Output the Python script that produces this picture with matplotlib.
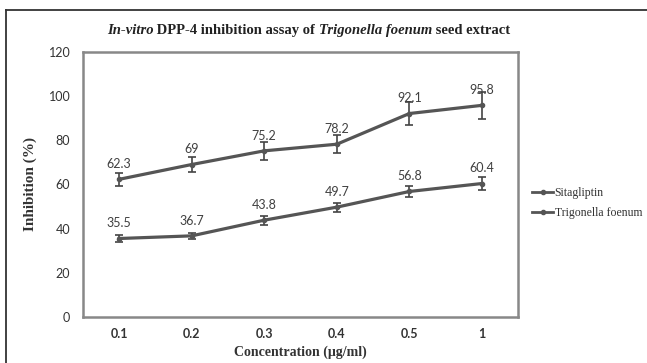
import matplotlib
matplotlib.use('Agg')
import matplotlib.pyplot as plt
from matplotlib.lines import Line2D

# データ
concentrations = ['0.1', '0.2', '0.3', '0.4', '0.5', '1']
sitagliptin = [62.3, 69, 75.2, 78.2, 92.1, 95.8]
sitagliptin_err = [3, 3.5, 4, 4, 5, 6]
trigonella = [35.5, 36.7, 43.8, 49.7, 56.8, 60.4]
trigonella_err = [1.5, 1.5, 2, 2, 2.5, 3]
y_ticks = [0, 20, 40, 60, 80, 100, 120]

line_color = '#555555'
serif = 'Liberation Serif'
sans = 'Lato'

fig = plt.figure(figsize=(6.47, 3.63), dpi=100)
ax = fig.add_axes([0.128, 0.127, 0.673, 0.730])

x = list(range(len(concentrations)))

for vals, errs, name in [(sitagliptin, sitagliptin_err, 'Sitagliptin'),
                         (trigonella, trigonella_err, 'Trigonella foenum')]:
    ax.errorbar(x, vals, yerr=errs, color=line_color, lw=2.3, marker='o', ms=3,
                ecolor='#444444', elinewidth=1.2, capsize=3, capthick=1.2, label=name)
    for xi, v in zip(x, vals):
        ax.annotate(f'{v:g}', (xi, v), xytext=(0, 11), textcoords='offset points',
                    ha='center', va='center', fontsize=9, color='#404040', family=sans)

ax.set_xlim(-0.5, len(concentrations) - 0.5)
ax.set_ylim(0, 120)
ax.set_xticks(x)
ax.set_xticklabels(concentrations, fontsize=9, fontweight='bold', family=sans, color='#333333')
ax.set_yticks(y_ticks)
ax.set_yticklabels([str(t) for t in y_ticks], fontsize=9, family=sans, color='#333333')
ax.tick_params(axis='y', length=0, pad=9)
ax.tick_params(axis='x', length=0, pad=8)
for sp in ax.spines.values():
    sp.set_color('#888888')
    sp.set_linewidth(1.8)

ax.set_ylabel('Inhibition (%)', fontsize=11, fontweight='bold', family=serif,
              color='#333333', labelpad=8)
ax.set_xlabel('Concentration (μg/ml)', fontsize=10, fontweight='bold', family=serif,
              color='#333333', labelpad=4)

# 凡例
handles = [Line2D([], [], color=line_color, lw=2, marker='o', ms=3),
           Line2D([], [], color=line_color, lw=2, marker='o', ms=3)]
fig.legend(handles, ['Sitagliptin', 'Trigonella foenum'], loc='center left',
           bbox_to_anchor=(0.806, 0.44), frameon=False, handlelength=1.8,
           handletextpad=0.1, labelspacing=0.7,
           prop={'family': serif, 'size': 8.5}, labelcolor='#333333')

# タイトル (斜体と太字の混在)
parts = [('In-vitro', 'italic'), (' DPP-4 inhibition assay of ', 'normal'),
         ('Trigonella foenum', 'italic'), (' seed extract', 'normal')]
prev = None
for s, style in parts:
    kw = dict(fontsize=10.5, fontweight='bold', family=serif, style=style, color='#222222')
    if prev is None:
        prev = fig.text(0.165, 0.905, s, ha='left', va='baseline', **kw)
    else:
        prev = fig.add_artist(matplotlib.text.Annotation(
            s, xy=(1, 0), xycoords=prev, ha='left', va='bottom', **kw))

# 外枠
fig.add_artist(Line2D([0.010, 0.010], [0, 0.972], color='#333333', lw=1.3, transform=fig.transFigure))
fig.add_artist(Line2D([0.010, 1.0], [0.972, 0.972], color='#333333', lw=1.3, transform=fig.transFigure))

fig.savefig('out.png', dpi=100)
